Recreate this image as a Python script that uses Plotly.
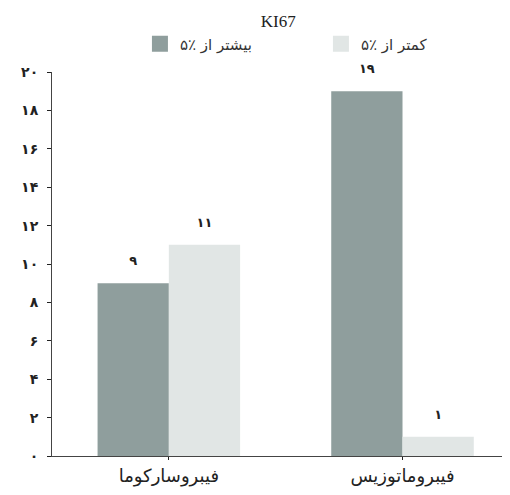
import plotly.graph_objects as go

categories = ["فیبروسارکوما", "فیبروماتوزیس"]
series_names = ["بیشتر از ٪۵", "کمتر از ٪۵"]
above5 = [9, 19]
below5 = [11, 1]
y_ticks = [0, 2, 4, 6, 8, 10, 12, 14, 16, 18, 20]
colors = ["#8f9e9d", "#e1e6e5"]

FA = str.maketrans("0123456789", "۰۱۲۳۴۵۶۷۸۹")
def fa(n):
    return str(n).translate(FA)

x_pos = list(range(len(categories)))
fig = go.Figure()
for name, vals, col in zip(series_names, [above5, below5], colors):
    fig.add_trace(go.Bar(
        x=x_pos, y=vals, name=name, marker=dict(color=col, line=dict(width=0)),
        text=["<span style='font-size:13px'><b>" + fa(v) + "</b></span><br>\u00a0" for v in vals],
        textposition="outside",
        textfont=dict(family="DejaVu Sans", size=10, color="#222"),
        cliponaxis=False, showlegend=False,
    ))
# legend entries with larger square swatches
for name, col in zip(series_names, colors):
    fig.add_trace(go.Scatter(
        x=[None], y=[None], mode="markers", name=name,
        marker=dict(symbol="square", size=16, color=col, line=dict(width=0)),
        showlegend=True, hoverinfo="skip",
    ))

fig.update_layout(
    width=510, height=495,
    paper_bgcolor="white", plot_bgcolor="white",
    barmode="group", bargap=0.39, bargroupgap=0,
    margin=dict(l=44, r=8, t=64, b=47, autoexpand=False),
    title=dict(text="KI67", x=0.53, xanchor="center", y=0.985, yanchor="top",
               font=dict(family="Liberation Serif", size=17, color="#222")),
    legend=dict(orientation="h", x=0.192, xanchor="left", y=1.03, yanchor="bottom",
                entrywidth=136, entrywidthmode="pixels", itemsizing="trace",
                bgcolor="rgba(0,0,0,0)",
                font=dict(family="DejaVu Sans", size=15, color="#333")),
    font=dict(family="DejaVu Sans", color="#222"),
)
fig.update_xaxes(
    range=[-0.5, 1.46], tickvals=x_pos, ticktext=categories,
    showline=True, linecolor="#444", linewidth=1,
    ticks="outside", ticklen=3, tickcolor="#222",
    tickfont=dict(family="DejaVu Sans", size=18, color="#222"),
    showgrid=False, zeroline=False, automargin=False,
)
fig.update_yaxes(
    range=[0, 20], tickvals=y_ticks, ticktext=["<b>" + fa(t) + "</b>" for t in y_ticks],
    showline=True, linecolor="#444", linewidth=1,
    ticks="outside", ticklen=4, tickcolor="#222", ticklabelstandoff=6,
    tickfont=dict(family="DejaVu Sans", size=14, color="#222"),
    showgrid=False, zeroline=False, automargin=False,
)
fig.write_html("out.html")
